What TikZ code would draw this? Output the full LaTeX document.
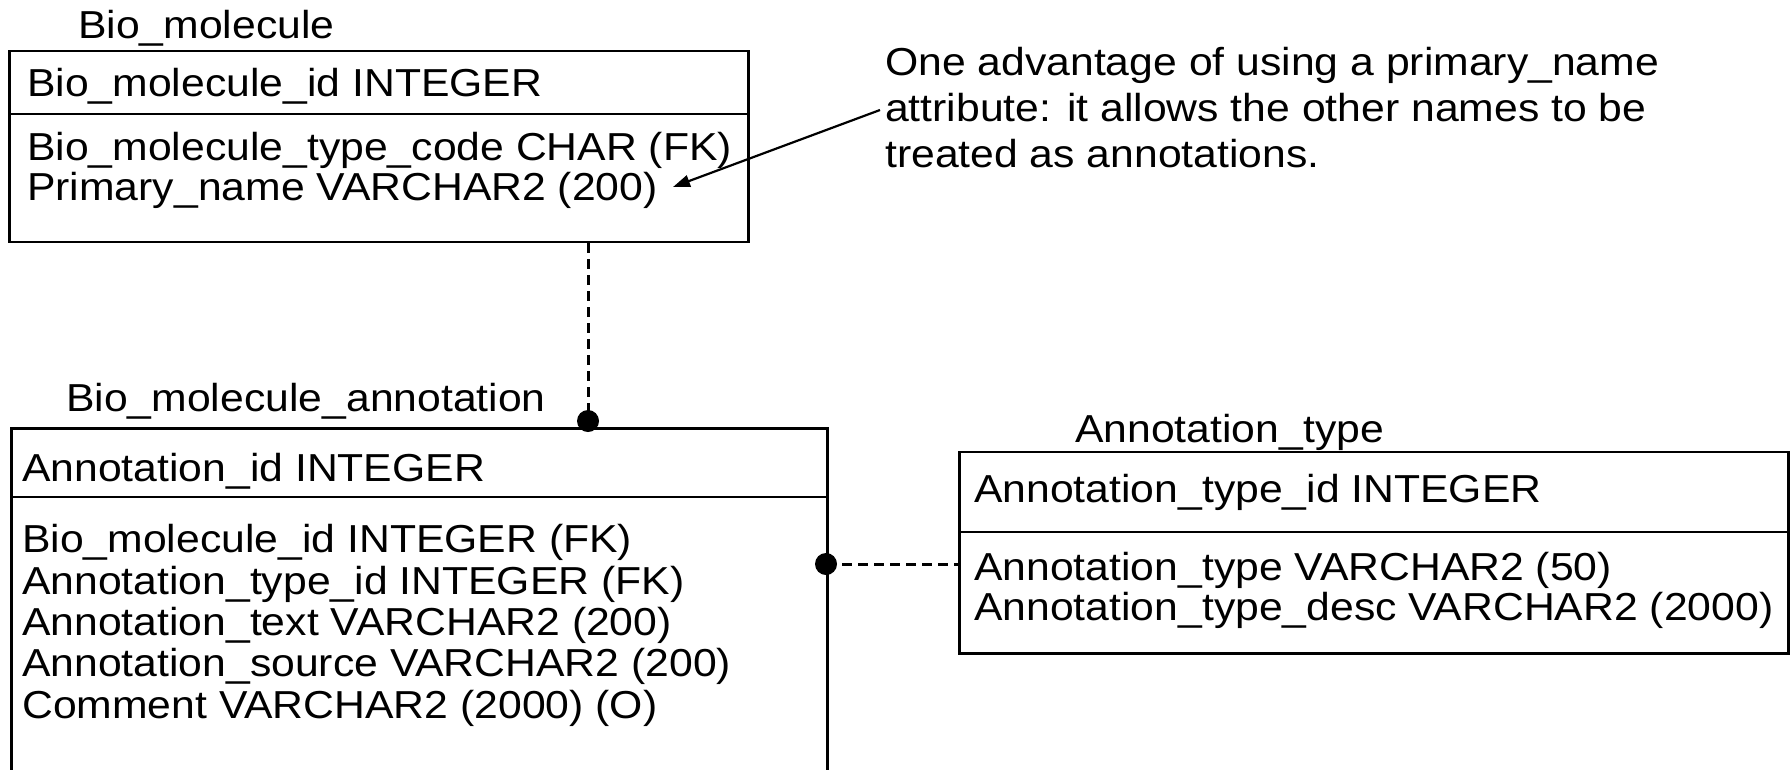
\documentclass[tikz,border=0pt]{standalone}
\usepackage{fontspec}
\setmainfont[FakeStretch=1.095]{Liberation Sans}
\usetikzlibrary{arrows.meta}
\begin{document}
\begin{tikzpicture}[x=1pt,y=-1pt,
  txt/.style={anchor=base west, inner sep=0pt, font=\fontsize{39}{44}\selectfont},
  tbl/.style={draw, line width=2.8pt, anchor=north west, inner sep=0pt},
  sep/.style={line width=2.8pt},
  rel/.style={line width=3pt, dash pattern=on 10pt off 6pt},
  dot/.style={circle, fill=black, inner sep=0pt, minimum size=22pt},
  note/.style={line width=2.2pt, -{Triangle[length=17pt,width=12pt]}}
]
\useasboundingbox (0,0) rectangle (1790,769);
\clip (0,0) rectangle (1790,769);

% Bio_molecule
\node[txt] (t1) at (78,38) {Bio\_molecule};
\node[tbl, minimum width=739pt, minimum height=191pt] (bm) at (8,49.5) {};
\draw[sep] (bm.west |- 0,114) -- (bm.east |- 0,114);
\node[txt] (bm1) at (27,96) {Bio\_molecule\_id INTEGER};
\node[txt] (bm2) at (27,160) {Bio\_molecule\_type\_code CHAR (FK)};
\node[txt] (bm3) at (27,200) {Primary\_name VARCHAR2 (200)};

% Bio_molecule_annotation
\node[txt] (t2) at (66,411) {Bio\_molecule\_annotation};
\node[tbl, minimum width=816pt, minimum height=420pt] (ba) at (10,427) {};
\draw[sep] (ba.west |- 0,497) -- (ba.east |- 0,497);
\node[txt] (ba1) at (22,481) {Annotation\_id INTEGER};
\node[txt] (ba2) at (22,552) {Bio\_molecule\_id INTEGER (FK)};
\node[txt] (ba3) at (22,594) {Annotation\_type\_id INTEGER (FK)};
\node[txt] (ba4) at (22,635) {Annotation\_text VARCHAR2 (200)};
\node[txt] (ba5) at (22,676) {Annotation\_source VARCHAR2 (200)};
\node[txt] (ba6) at (22,718) {Comment VARCHAR2 (2000) (O)};

% Annotation_type
\node[txt] (t3) at (1075,442) {Annotation\_type};
\node[tbl, minimum width=829pt, minimum height=201.5pt] (at) at (958,450.5) {};
\draw[sep] (at.west |- 0,532) -- (at.east |- 0,532);
\node[txt] (at1) at (974,502) {Annotation\_type\_id INTEGER};
\node[txt] (at2) at (974,580) {Annotation\_type VARCHAR2 (50)};
\node[txt] (at3) at (974,620) {Annotation\_type\_desc VARCHAR2 (2000)};

% note
\node[txt] (n1) at (885,75) {One advantage of using a primary\_name};
\node[txt] (n2) at (885,121) {attribute: it allows the other names to be};
\node[txt] (n3) at (885,167) {treated as annotations.};

% relationships
\coordinate (c1) at (588,421);
\node[dot] (d1) at (c1) {};
\draw[rel] (c1 |- bm.south) -- (d1.center);
\coordinate (c2) at (826,564);
\node[dot] (d2) at (c2) {};
\draw[rel] (d2.center) -- (at.west |- c2);

% annotation arrow
\coordinate (aS) at (880,110);
\coordinate (aE) at (673,187);
\draw[note] (aS) -- (aE);
\end{tikzpicture}
\end{document}
